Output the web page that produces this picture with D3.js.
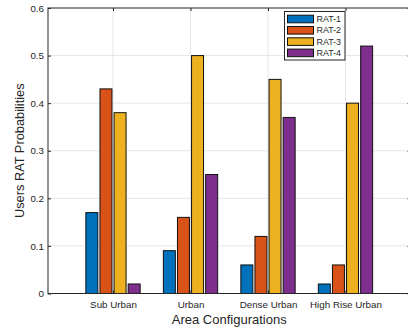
<!DOCTYPE html>
<html>
<head>
<meta charset="utf-8">
<script src="https://cdn.jsdelivr.net/npm/d3@7"></script>
<style>
  body { margin: 0; background: #fff; }
  svg { display: block; font-family: 'Liberation Sans', Arial, Helvetica, sans-serif; }
</style>
</head>
<body>
<svg id="chart" width="408" height="328"></svg>
<script>
// Data
const categories = ['Sub Urban', 'Urban', 'Dense Urban', 'High Rise Urban'];
const seriesNames = ['RAT-1', 'RAT-2', 'RAT-3', 'RAT-4'];
const rat1 = [0.17, 0.09, 0.06, 0.02];
const rat2 = [0.43, 0.16, 0.12, 0.06];
const rat3 = [0.38, 0.50, 0.45, 0.40];
const rat4 = [0.02, 0.25, 0.37, 0.52];
const yTicks = [0, 0.1, 0.2, 0.3, 0.4, 0.5, 0.6];

const seriesValues = [rat1, rat2, rat3, rat4];
const colors = ['#0072BD', '#D95319', '#EDB120', '#7E2F8E'];

const svg = d3.select('#chart');
const margin = { left: 48, top: 8, right: 410.5, bottom: 293.5 };

// category centres; outer padding so the axis runs past the frame on the right
const xScale = d3.scalePoint()
    .domain(categories)
    .range([margin.left, margin.right])
    .padding(0.839);
const step = xScale.step();

const yScale = d3.scaleLinear()
    .domain([0, 0.6])
    .range([margin.bottom, margin.top]);

// Grid lines
const grid = svg.append('g').attr('class', 'grid');
grid.selectAll('.hgrid')
  .data(yTicks.slice(1, -1))
  .join('line')
    .attr('x1', margin.left).attr('x2', margin.right)
    .attr('y1', d => yScale(d)).attr('y2', d => yScale(d))
    .attr('stroke', '#e6e6e6')
    .attr('stroke-width', 1);
grid.selectAll('.vgrid')
  .data(categories)
  .join('line')
    .attr('x1', d => xScale(d)).attr('x2', d => xScale(d))
    .attr('y1', margin.top).attr('y2', margin.bottom)
    .attr('stroke', '#e6e6e6')
    .attr('stroke-width', 1);

// Bars: 4 per group
const barPitch = step * 0.182;
const barWidth = barPitch * 0.85;
const barData = [];
categories.forEach((c, i) => {
  seriesValues.forEach((vals, j) => {
    barData.push({ cat: c, series: j, value: vals[i] });
  });
});

svg.append('g').selectAll('rect')
  .data(barData)
  .join('rect')
    .attr('x', d => xScale(d.cat) + (d.series - 1.5) * barPitch - barWidth / 2)
    .attr('y', d => yScale(d.value))
    .attr('width', barWidth)
    .attr('height', d => yScale(0) - yScale(d.value))
    .attr('fill', d => colors[d.series])
    .attr('stroke', '#111')
    .attr('stroke-width', 1);

// Axes (box style, ticks inward)
const axisColor = '#262626';
const yAxisG = svg.append('g')
    .attr('transform', `translate(${margin.left},0)`)
    .call(d3.axisLeft(yScale).tickValues(yTicks).tickSize(-3).tickPadding(4)
      .tickFormat(d => d === 0 ? '0' : d3.format('.1f')(d)));
const yAxisR = svg.append('g')
    .attr('transform', `translate(${margin.right},0)`)
    .call(d3.axisRight(yScale).tickValues(yTicks).tickSize(-3).tickFormat(''));
const xAxisG = svg.append('g')
    .attr('transform', `translate(0,${margin.bottom})`)
    .call(d3.axisBottom(xScale).tickSize(-3).tickPadding(7.4));
const xAxisT = svg.append('g')
    .attr('transform', `translate(0,${margin.top})`)
    .call(d3.axisTop(xScale).tickSize(-3).tickFormat(''));

[yAxisG, yAxisR, xAxisG, xAxisT].forEach(g => {
  g.select('.domain').remove();
  g.selectAll('.tick line').attr('stroke', axisColor);
  g.selectAll('.tick text')
    .attr('fill', axisColor)
    .style('font-size', '9.8px')
    .style('font-family', "'Liberation Sans', Arial, sans-serif");
});

// frame
svg.append('rect')
    .attr('x', margin.left).attr('y', margin.top)
    .attr('width', margin.right - margin.left)
    .attr('height', margin.bottom - margin.top)
    .attr('fill', 'none')
    .attr('stroke', axisColor)
    .attr('stroke-width', 1);

// Axis titles
svg.append('text')
    .attr('transform', `translate(20,${(margin.top + margin.bottom) / 2}) rotate(-90)`)
    .attr('text-anchor', 'middle')
    .attr('dy', '0.35em')
    .attr('fill', axisColor)
    .style('font-size', '12.8px')
    .text('Users RAT Probabilities');

svg.append('text')
    .attr('x', (margin.left + margin.right) / 2)
    .attr('y', 323.5)
    .attr('text-anchor', 'middle')
    .attr('fill', axisColor)
    .style('font-size', '13px')
    .text('Area Configurations');

// Legend
const legend = svg.append('g').attr('transform', 'translate(284.5,11.5)');
legend.append('rect')
    .attr('width', 60.5).attr('height', 48.5)
    .attr('fill', '#fff')
    .attr('stroke', axisColor)
    .attr('stroke-width', 1);
const items = legend.selectAll('.legend-item')
  .data(seriesNames)
  .join('g')
    .attr('class', 'legend-item')
    .attr('transform', (d, i) => `translate(3,${7.5 + i * 11.3})`);
items.append('rect')
    .attr('y', -3.8)
    .attr('width', 26).attr('height', 7.6)
    .attr('fill', (d, i) => colors[i])
    .attr('stroke', '#111')
    .attr('stroke-width', 1);
items.append('text')
    .attr('x', 29)
    .attr('dy', '0.35em')
    .attr('fill', axisColor)
    .style('font-size', '8.9px')
    .text(d => d);
</script>
</body>
</html>
